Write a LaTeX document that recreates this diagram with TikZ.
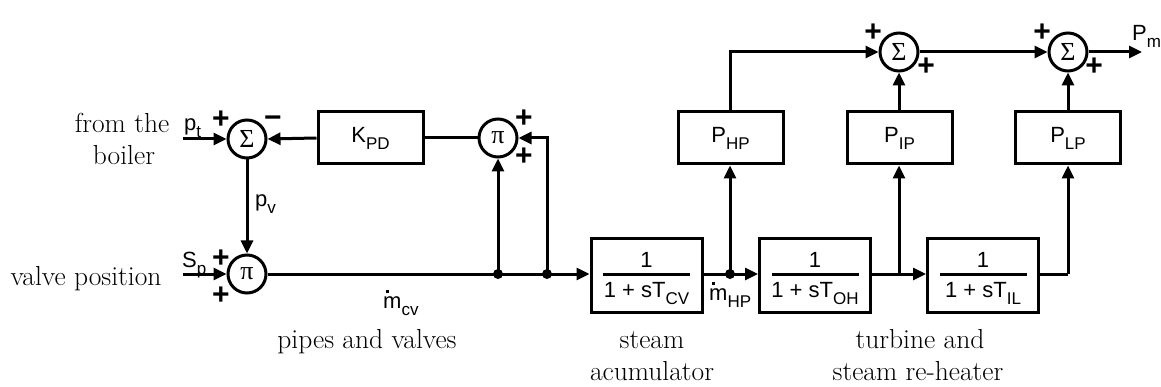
\documentclass[tikz,border=0pt]{standalone}
\usepackage{fontspec}
\setsansfont{Liberation Sans}
\newfontfamily\grk{Liberation Serif}
\usetikzlibrary{arrows.meta}
\newcommand{\sbs}[1]{\raisebox{-7pt}{\fontsize{17}{17}\selectfont #1}}
\newcommand{\mdt}{\rlap{\kern3pt\raisebox{15pt}{\rule{2.6pt}{2.6pt}}}m}
\tikzset{
  wire/.style={line width=3pt},
  sig/.style={line width=3pt, -{Triangle[length=13pt,width=12pt]}},
  box/.style={draw, line width=3pt, minimum width=105pt, minimum height=52pt, inner sep=0pt, font=\sffamily\fontsize{22}{26}\selectfont},
  fbox/.style={draw, line width=3pt, minimum width=111pt, minimum height=73pt, inner sep=0pt},
  sumn/.style={circle, draw, line width=3pt, minimum size=38pt, inner sep=0pt, font=\grk\fontsize{26}{26}\selectfont},
  jdot/.style={circle, fill, inner sep=0pt, minimum size=10pt},
  lab/.style={font=\sffamily\fontsize{22}{26}\selectfont, inner sep=0pt, anchor=base west},
  frac/.style={font=\sffamily\fontsize{22}{26}\selectfont, inner sep=0pt, anchor=base},
  pls/.style={font=\sffamily\bfseries\fontsize{30}{30}\selectfont, inner sep=0pt},
  txt/.style={font=\fontsize{27.5}{32}\selectfont, inner sep=0pt, anchor=base}
}
\begin{document}
\begin{tikzpicture}[x=1pt,y=-1pt]
\useasboundingbox (0,0) rectangle (1161,387);
% blocks
\node[sumn] (s1) at (247,139) {Σ};
\node[sumn] (m1) at (247,274) {π};
\node[box] (kpd) at (370.5,138) {K\sbs{PD}};
\node[sumn] (m2) at (498,138) {π};
\node[fbox] (b1) at (646.5,275.5) {};
\node[box] (php) at (730.5,138) {P\sbs{HP}};
\node[fbox] (b2) at (815,275.5) {};
\node[fbox] (b3) at (983,275.5) {};
\node[box] (pip) at (899.5,138) {P\sbs{IP}};
\node[box] (plp) at (1068,138) {P\sbs{LP}};
\node[sumn] (s2) at (899,52) {Σ};
\node[sumn] (s3) at (1068,52) {Σ};
% junctions
\node[jdot] (j1) at (498,274) {};
\node[jdot] (j2) at (547,274) {};
\node[jdot] (j3) at (730,274) {};
\coordinate (jc) at (547,138);
\coordinate (j4) at (899,274);
\coordinate (j5) at (1068,274);
\coordinate (in1) at (183,139);
\coordinate (in2) at (183,274);
\coordinate (out) at (1142,52);
% fractions
\node[frac] (n1) at (646.5,267) {1};
\draw[wire] (603,274) -- (690,274);
\node[frac] (d1) at (646.5,297) {1 + sT\sbs{CV}};
\node[frac] (n2) at (815,267) {1};
\draw[wire] (772,274) -- (859,274);
\node[frac] (d2) at (815,297) {1 + sT\sbs{OH}};
\node[frac] (n3) at (983,267) {1};
\draw[wire] (940,274) -- (1027,274);
\node[frac] (d3) at (983,297) {1 + sT\sbs{IL}};
% connectors
\draw[sig] (in1) -- (s1.west);
\draw[sig] (in2) -- (m1.west);
\draw[sig] (s1.south) -- (m1.north);
\draw[sig] (kpd.west) -- (s1.east);
\draw[wire] (m2.west) -- (kpd.east);
\draw[wire] (m1.east) -- (j1.center) -- (j2.center);
\draw[sig] (j2.center) -- (j2 -| b1.west);
\draw[sig] (j1.center) -- (m2.south);
\draw[sig] (j2.center) -- (jc) -- (m2.east);
\draw[wire] (j3 -| b1.east) -- (j3.center);
\draw[sig] (j3.center) -- (j3 -| b2.west);
\draw[sig] (j3.center) -- (php.south -| j3);
\draw[sig] (php.north -| j3) |- (s2.west);
\draw[sig] (j4 -| b2.east) -- (j4 -| b3.west);
\draw[sig] (j4) -- (pip.south -| j4);
\draw[wire] (j5 -| b3.east) -- (j5);
\draw[sig] (j5) -- (plp.south);
\draw[sig] (pip.north -| s2) -- (s2.south);
\draw[sig] (plp.north) -- (s3.south);
\draw[sig] (s2.east) -- (s3.west);
\draw[sig] (s3.east) -- (out);
% signal labels
\node[lab] (lpt) at (184,131) {p\sbs{t}};
\node[lab] (lpv) at (255,207) {p\sbs{v}};
\node[lab] (lsp) at (182,267) {S\sbs{p}};
\node[lab] (lmcv) at (383,308) {\mdt\sbs{cv}};
\node[lab] (lmhp) at (709,300) {\mdt\sbs{HP}};
\node[lab] (lpm) at (1132,41) {P\sbs{m}};
% signs
\node[pls] (p1) at (221,120) {+};
\node[pls] (p2) at (273,122) {−};
\node[pls] (p3) at (221,259) {+};
\node[pls] (p4) at (221,296) {+};
\node[pls] (p5) at (524,119) {+};
\node[pls] (p6) at (524,157) {+};
\node[pls] (p7) at (873,33) {+};
\node[pls] (p8) at (926,67) {+};
\node[pls] (p9) at (1042,33) {+};
\node[pls] (p10) at (1094,67) {+};
% texts
\node[txt] (t1) at (122,133) {from the};
\node[txt] (t2) at (124,165) {boiler};
\node[txt] (t3) at (86,285) {valve position};
\node[txt] (t4) at (367,348) {pipes and valves};
\node[txt] (t5) at (652,348) {steam};
\node[txt] (t6) at (652,380) {acumulator};
\node[txt] (t7) at (920,348) {turbine and};
\node[txt] (t8) at (918,380) {steam re-heater};
\end{tikzpicture}
\end{document}
